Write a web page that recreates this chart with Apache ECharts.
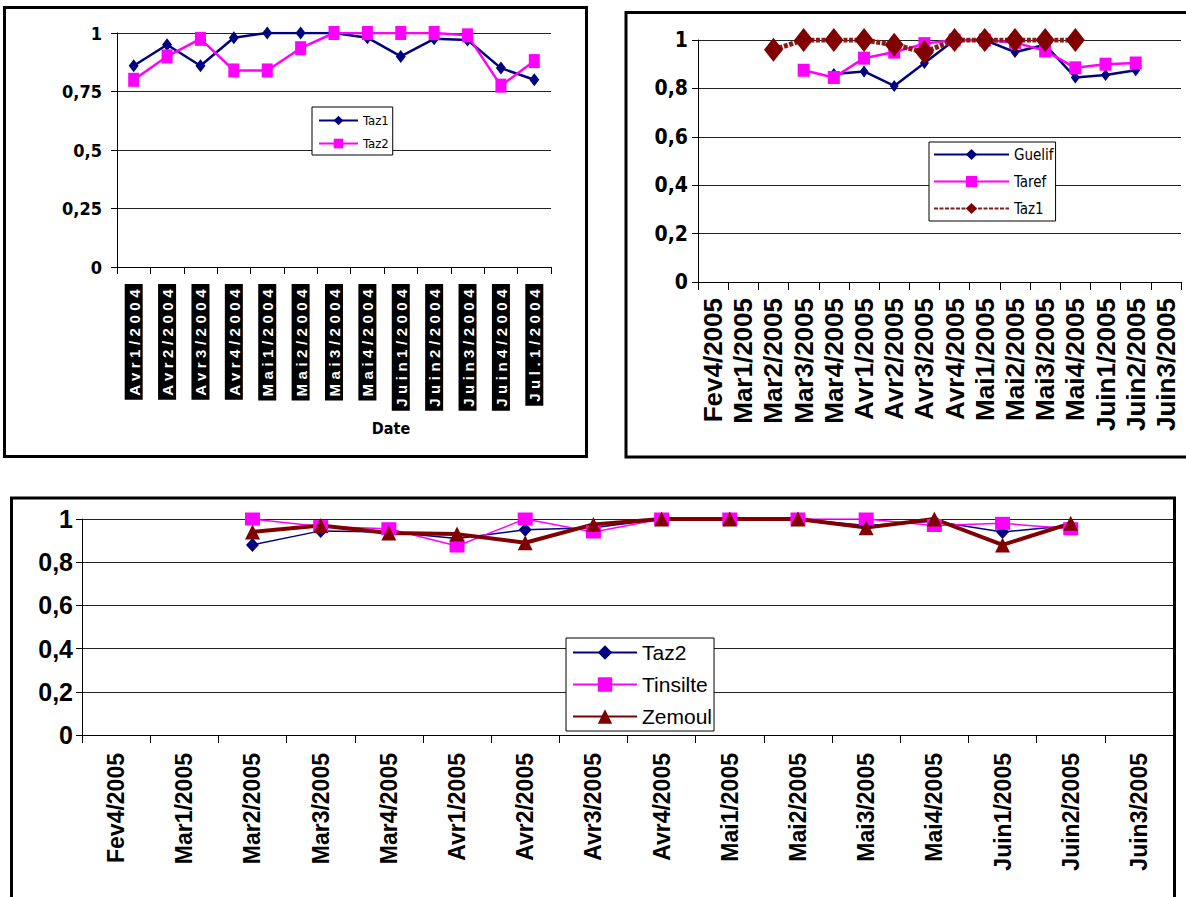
<!DOCTYPE html>
<html><head><meta charset="utf-8">
<script src="https://cdn.jsdelivr.net/npm/echarts@6/dist/echarts.min.js"></script>
<style>
html,body{margin:0;padding:0;background:#fff;width:1186px;height:897px;overflow:hidden}
.c{position:absolute;left:0;top:0;width:1186px;height:897px}
</style></head><body>
<div id="c1" class="c"></div><div id="c2" class="c"></div><div id="c3" class="c"></div>
<script>
// ---------- data ----------
const cats2004 = ['Avr1/2004','Avr2/2004','Avr3/2004','Avr4/2004','Mai1/2004','Mai2/2004','Mai3/2004','Mai4/2004','Juin1/2004','Juin2/2004','Juin3/2004','Juin4/2004','Jul.1/2004'];
const taz1_2004 = [0.86,0.95,0.86,0.98,1.0,1.0,1.0,0.98,0.90,0.975,0.97,0.85,0.80];
const taz2_2004 = [0.80,0.90,0.975,0.84,0.84,0.935,1.0,1.0,1.0,1.0,0.99,0.775,0.88];

const catsTR = ['Fev4/2005','Mar1/2005','Mar2/2005','Mar3/2005','Mar4/2005','Avr1/2005','Avr2/2005','Avr3/2005','Avr4/2005','Mai1/2005','Mai2/2005','Mai3/2005','Mai4/2005','Juin1/2005','Juin2/2005','Juin3/2005'];
const guelif  = [null,null,null,null,0.86,0.87,0.81,0.905,1.0,1.0,0.95,0.98,0.845,0.855,0.875,null];
const taref   = [null,null,null,0.875,0.845,0.925,0.95,0.985,1.0,1.0,0.99,0.955,0.885,0.90,0.905,null];
const taz1_2005 = [null,null,0.96,1.0,1.0,1.0,0.98,0.95,1.0,1.0,1.0,1.0,1.0,null,null,null];

const catsB = ['Fev4/2005','Mar1/2005','Mar2/2005','Mar3/2005','Mar4/2005','Avr1/2005','Avr2/2005','Avr3/2005','Avr4/2005','Mai1/2005','Mai2/2005','Mai3/2005','Mai4/2005','Juin1/2005','Juin2/2005','Juin3/2005'];
const taz2_2005 = [null,null,0.88,0.945,0.94,0.91,0.95,0.96,1.0,1.0,1.0,0.97,0.99,0.94,0.97,null];
const tinsilte  = [null,null,1.0,0.965,0.955,0.875,1.0,0.94,1.0,1.0,1.0,1.0,0.97,0.98,0.955,null];
const zemoul    = [null,null,0.94,0.97,0.935,0.93,0.89,0.975,1.0,1.0,1.0,0.96,1.0,0.88,0.98,null];

const yTicks1 = [0,0.25,0.5,0.75,1];   const yLabels1 = ['0','0,25','0,5','0,75','1'];
const yTicks2 = [0,0.2,0.4,0.6,0.8,1]; const yLabels2 = ['0','0,2','0,4','0,6','0,8','1'];

// ---------- styles ----------
const NARROW = "'Liberation Sans Narrow','Arial Narrow','DejaVu Sans Condensed',sans-serif";
const ARIAL = "'Liberation Sans',Arial,sans-serif";
const NAVY = '#000080', MAG = '#FF00FF', RED = '#800000';
function fmt(ticks, labels){ return v => { const i = ticks.findIndex(t => Math.abs(t - v) < 1e-6); return i >= 0 ? labels[i] : ''; }; }
function frame(x,y,w,h){ return {type:'rect', z:100, silent:true, shape:{x:x,y:y,width:w,height:h}, style:{fill:'none', stroke:'#000', lineWidth:3}}; }
const axisBase = {
  axisLine:{show:true, lineStyle:{color:'#000', width:1}},
  axisTick:{show:true, lineStyle:{color:'#000', width:1}}
};

// ---------- chart 1 ----------
const LS = 4.5;
const rich1 = {};
[9,10].forEach(n => { rich1['s'+n] = {color:'#fff', backgroundColor:'#000', fontWeight:'bold', fontSize:15, fontFamily:ARIAL, lineHeight:15, padding:[2,1,1,4+n*LS]}; });
const c1 = echarts.init(document.getElementById('c1'), null, {renderer:'svg'});
c1.setOption({
  animation:false,
  grid:{left:117, top:33, width:434, height:234},
  xAxis:{type:'category', data:cats2004, boundaryGap:true,
    axisLine:axisBase.axisLine, axisTick:Object.assign({length:7}, axisBase.axisTick),
    axisLabel:{interval:0, rotate:90, margin:17, formatter:v => '{s'+v.length+'|'+v+'}', rich:rich1}},
  yAxis:{type:'value', min:0, max:1, interval:0.25,
    axisLine:axisBase.axisLine, axisTick:Object.assign({length:6}, axisBase.axisTick),
    axisLabel:{margin:15, formatter:fmt(yTicks1, yLabels1), color:'#000', fontFamily:NARROW, fontWeight:'bold', fontSize:18},
    splitLine:{lineStyle:{color:'#222', width:1}}},
  legend:{orient:'vertical', left:312, top:107, padding:[7,4,5,6], itemWidth:39, itemHeight:12, itemGap:10,
    backgroundColor:'#fff', borderColor:'#000', borderWidth:1,
    textStyle:{fontFamily:NARROW, fontSize:13, color:'#000'}, data:['Taz1','Taz2']},
  series:[
    {name:'Taz1', type:'line', data:taz1_2004, symbol:'diamond', symbolSize:[10,13], showAllSymbol:true,
      itemStyle:{color:NAVY}, lineStyle:{color:NAVY, width:2.5}},
    {name:'Taz2', type:'line', data:taz2_2004, symbol:'rect', symbolSize:[11,14], showAllSymbol:true,
      itemStyle:{color:MAG}, lineStyle:{color:MAG, width:2.5}}
  ],
  graphic:[frame(4.5,7.5,582,449),
    {type:'text', x:391, y:428, style:{text:'Date', fontFamily:NARROW, fontWeight:'bold', fontSize:16, fill:'#000', align:'center', verticalAlign:'middle'}}]
});
function spaceLabels(){
  document.querySelectorAll('#c1 text').forEach(t => { if (cats2004.includes(t.textContent.trim())) t.style.letterSpacing = LS + 'px'; });
}
spaceLabels();
c1.on('finished', spaceLabels);

// ---------- chart 2 ----------
const c2 = echarts.init(document.getElementById('c2'), null, {renderer:'svg'});
c2.setOption({
  animation:false,
  grid:{left:698, top:40, width:483, height:242},
  xAxis:{type:'category', data:catsTR, boundaryGap:true,
    axisLine:axisBase.axisLine, axisTick:Object.assign({length:8}, axisBase.axisTick),
    axisLabel:{interval:0, rotate:90, margin:16, color:'#000', fontFamily:ARIAL, fontWeight:'bold', fontSize:26}},
  yAxis:{type:'value', min:0, max:1, interval:0.2,
    axisLine:axisBase.axisLine, axisTick:Object.assign({length:6}, axisBase.axisTick),
    axisLabel:{margin:10, formatter:fmt(yTicks2, yLabels2), color:'#000', fontFamily:NARROW, fontWeight:'bold', fontSize:21},
    splitLine:{lineStyle:{color:'#222', width:1}}},
  legend:{orient:'vertical', left:929, top:142, padding:[5,2,5,4], itemWidth:75, itemHeight:14, itemGap:12,
    backgroundColor:'#fff', borderColor:'#000', borderWidth:1,
    textStyle:{fontFamily:NARROW, fontSize:15, color:'#000'}, data:['Guelif','Taref','Taz1']},
  series:[
    {name:'Guelif', type:'line', data:guelif, symbol:'diamond', symbolSize:[9,12], showAllSymbol:true,
      itemStyle:{color:NAVY}, lineStyle:{color:NAVY, width:2.5}},
    {name:'Taref', type:'line', data:taref, symbol:'rect', symbolSize:[12,13], showAllSymbol:true,
      itemStyle:{color:MAG}, lineStyle:{color:MAG, width:2.5}},
    {name:'Taz1', type:'line', data:taz1_2005, symbol:'diamond', symbolSize:[19,24], showAllSymbol:true,
      itemStyle:{color:RED}, lineStyle:{color:'#8b1a1a', width:5, type:[4,1.5]}}
  ],
  graphic:[frame(626,12.5,600,444.5)]
});

// ---------- chart 3 ----------
const c3 = echarts.init(document.getElementById('c3'), null, {renderer:'svg'});
c3.setOption({
  animation:false,
  grid:{left:82, top:519, width:1091, height:216},
  xAxis:{type:'category', data:catsB, boundaryGap:true,
    axisLine:axisBase.axisLine, axisTick:Object.assign({length:8}, axisBase.axisTick),
    axisLabel:{interval:0, rotate:90, margin:18, color:'#000', fontFamily:ARIAL, fontWeight:'bold', fontSize:23}},
  yAxis:{type:'value', min:0, max:1, interval:0.2,
    axisLine:axisBase.axisLine, axisTick:Object.assign({length:6}, axisBase.axisTick),
    axisLabel:{margin:9, formatter:fmt(yTicks2, yLabels2), color:'#000', fontFamily:ARIAL, fontWeight:'bold', fontSize:25},
    splitLine:{lineStyle:{color:'#222', width:1}}},
  legend:{orient:'vertical', left:566, top:638, padding:[4,2,4,6], itemWidth:64, itemHeight:18, itemGap:11,
    backgroundColor:'#fff', borderColor:'#000', borderWidth:1,
    textStyle:{fontFamily:ARIAL, fontSize:21, color:'#000'}, data:['Taz2','Tinsilte','Zemoul']},
  series:[
    {name:'Taz2', type:'line', data:taz2_2005, symbol:'diamond', symbolSize:[13,14], showAllSymbol:true,
      itemStyle:{color:NAVY}, lineStyle:{color:NAVY, width:1.5}},
    {name:'Tinsilte', type:'line', data:tinsilte, symbol:'rect', symbolSize:[15,13], showAllSymbol:true,
      itemStyle:{color:MAG}, lineStyle:{color:MAG, width:1.5}},
    {name:'Zemoul', type:'line', data:zemoul, symbol:'triangle', symbolSize:[15,15], showAllSymbol:true,
      itemStyle:{color:RED}, lineStyle:{color:RED, width:4}}
  ],
  graphic:[frame(11.5,498,1163,450)]
});
</script>
</body></html>
